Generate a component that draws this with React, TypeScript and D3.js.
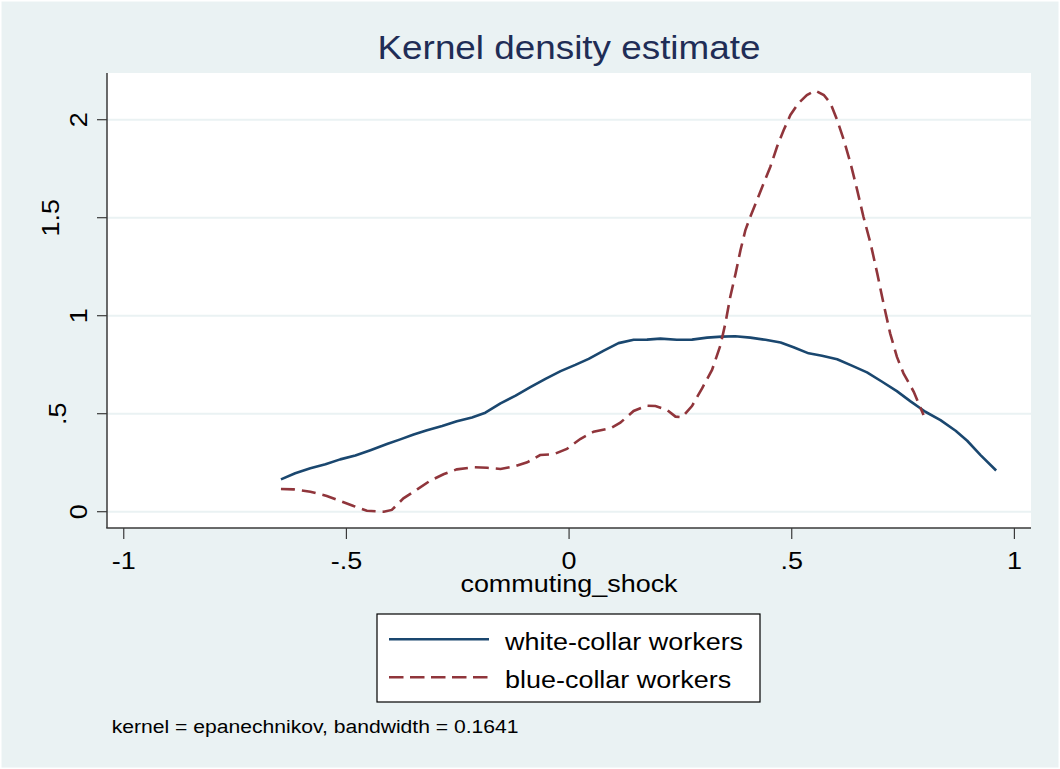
import React from "react";
import * as d3 from "d3";

const TITLE = "Kernel density estimate";
const X_TITLE = "commuting_shock";
const NOTE = "kernel = epanechnikov, bandwidth = 0.1641";
const X_TICKS = [-1, -0.5, 0, 0.5, 1];
const X_TICK_LABELS = ["-1", "-.5", "0", ".5", "1"];
const Y_TICKS = [0, 0.5, 1, 1.5, 2];
const Y_TICK_LABELS = ["0", ".5", "1", "1.5", "2"];
const SERIES_NAMES = ["white-collar workers", "blue-collar workers"];

const whiteX = [-0.647, -0.615, -0.581, -0.547, -0.514, -0.48, -0.446, -0.409, -0.379, -0.349, -0.319, -0.285, -0.252, -0.218, -0.188, -0.154, -0.12, -0.087, -0.053, -0.019, 0.014, 0.044, 0.078, 0.111, 0.145, 0.175, 0.205, 0.242, 0.276, 0.31, 0.343, 0.373, 0.407, 0.441, 0.475, 0.504, 0.538, 0.568, 0.602, 0.635, 0.669, 0.703, 0.736, 0.766, 0.8, 0.834, 0.868, 0.894, 0.924, 0.959];
const whiteY = [0.165, 0.196, 0.222, 0.242, 0.267, 0.287, 0.314, 0.345, 0.369, 0.394, 0.416, 0.437, 0.461, 0.481, 0.505, 0.553, 0.592, 0.635, 0.678, 0.717, 0.749, 0.78, 0.822, 0.86, 0.877, 0.878, 0.883, 0.877, 0.878, 0.888, 0.893, 0.895, 0.888, 0.877, 0.863, 0.839, 0.808, 0.796, 0.778, 0.745, 0.711, 0.663, 0.615, 0.564, 0.51, 0.467, 0.413, 0.362, 0.289, 0.21];

const blueX = [-0.647, -0.619, -0.581, -0.544, -0.514, -0.484, -0.454, -0.416, -0.398, -0.372, -0.341, -0.312, -0.282, -0.252, -0.214, -0.184, -0.154, -0.125, -0.094, -0.065, -0.035, -0.005, 0.025, 0.055, 0.093, 0.115, 0.145, 0.175, 0.194, 0.22, 0.239, 0.254, 0.276, 0.299, 0.321, 0.34, 0.351, 0.362, 0.374, 0.385, 0.396, 0.407, 0.422, 0.437, 0.452, 0.467, 0.482, 0.497, 0.515, 0.534, 0.553, 0.572, 0.587, 0.602, 0.617, 0.632, 0.647, 0.661, 0.677, 0.692, 0.706, 0.721, 0.736, 0.751, 0.774, 0.796];
const blueY = [0.116, 0.114, 0.102, 0.08, 0.055, 0.029, 0.005, 0.0, 0.009, 0.068, 0.114, 0.158, 0.191, 0.216, 0.227, 0.224, 0.218, 0.23, 0.252, 0.289, 0.293, 0.32, 0.371, 0.408, 0.426, 0.454, 0.514, 0.541, 0.539, 0.519, 0.485, 0.482, 0.539, 0.631, 0.723, 0.85, 0.961, 1.097, 1.216, 1.335, 1.437, 1.505, 1.59, 1.676, 1.76, 1.862, 1.947, 2.024, 2.084, 2.126, 2.148, 2.126, 2.084, 1.998, 1.896, 1.778, 1.641, 1.505, 1.369, 1.216, 1.063, 0.91, 0.791, 0.706, 0.612, 0.493];

const W = 1060;
const H = 769;
const BG = "#EAF2F3";
const NAVY = "#1A476F";
const MAROON = "#90353B";
const FONT = "'Liberation Sans', Arial, sans-serif";
const SX = 1.1;

export default function App() {
  const plot = { left: 107, right: 1031, top: 73, bottom: 528 };
  const x = d3.scaleLinear().domain([-1, 1]).range([123.75, 1014.4]);
  const y = d3.scaleLinear().domain([0, 2]).range([511.7, 119.7]);
  const line = d3
    .line<[number, number]>()
    .x((d) => x(d[0]))
    .y((d) => y(d[1]))
    .curve(d3.curveLinear);
  const whitePts = whiteX.map((v, i) => [v, whiteY[i]] as [number, number]);
  const bluePts = blueX.map((v, i) => [v, blueY[i]] as [number, number]);

  const yLabelBaseline = (s: string) => (s.length === 1 ? 86.5 : s.length === 2 ? 65.5 : 58.5);

  const legend = { left: 377, top: 614, right: 760, bottom: 702 };

  return (
    <svg
      width={W}
      height={H}
      style={{ position: "absolute", left: 0, top: 0 }}
      fontFamily={FONT}
    >
      <rect x={0} y={0} width={W} height={H} fill={BG} />
      <rect x={0.75} y={0.75} width={W - 1.5} height={H - 1.5} fill="none" stroke="#ffffff" strokeWidth={1.5} />
      <rect
        x={plot.left}
        y={plot.top}
        width={plot.right - plot.left}
        height={plot.bottom - plot.top}
        fill="#ffffff"
      />
      {Y_TICKS.map((t) => (
        <line key={"g" + t} x1={plot.left} x2={plot.right} y1={y(t)} y2={y(t)} stroke={BG} strokeWidth={2} />
      ))}
      <text
        transform={`translate(${(plot.left + plot.right) / 2},59) scale(${SX},1)`}
        textAnchor="middle"
        fontSize={33.5}
        fill="#1F2D56"
      >
        {TITLE}
      </text>
      <line x1={plot.left} x2={plot.left} y1={plot.top} y2={plot.bottom} stroke="#3a3a3a" strokeWidth={1.5} />
      <line x1={plot.left - 0.75} x2={plot.right} y1={plot.bottom} y2={plot.bottom} stroke="#3a3a3a" strokeWidth={1.5} />
      {Y_TICKS.map((t, i) => (
        <g key={"y" + t}>
          <line x1={plot.left - 10} x2={plot.left} y1={y(t)} y2={y(t)} stroke="#3a3a3a" strokeWidth={1.2} />
          <text
            transform={`translate(${yLabelBaseline(Y_TICK_LABELS[i])},${y(t)}) rotate(-90) scale(${SX},1)`}
            textAnchor="middle"
            fontSize={24.5}
            fill="#000"
          >
            {Y_TICK_LABELS[i]}
          </text>
        </g>
      ))}
      {X_TICKS.map((t, i) => (
        <g key={"x" + t}>
          <line x1={x(t)} x2={x(t)} y1={plot.bottom} y2={plot.bottom + 11} stroke="#3a3a3a" strokeWidth={1.2} />
          <text
            transform={`translate(${x(t)},569.3) scale(${SX},1)`}
            textAnchor="middle"
            fontSize={24.5}
            fill="#000"
          >
            {X_TICK_LABELS[i]}
          </text>
        </g>
      ))}
      <text
        transform={`translate(${(plot.left + plot.right) / 2},592) scale(${SX},1)`}
        textAnchor="middle"
        fontSize={24.5}
        fill="#000"
      >
        {X_TITLE}
      </text>
      <path d={line(whitePts) || ""} fill="none" stroke={NAVY} strokeWidth={2.6} strokeLinejoin="round" />
      <path d={line(bluePts) || ""} fill="none" stroke={MAROON} strokeWidth={2.6} strokeDasharray="14,7" />
      <rect
        x={legend.left}
        y={legend.top}
        width={legend.right - legend.left}
        height={legend.bottom - legend.top}
        fill="#ffffff"
        stroke="#000"
        strokeWidth={1.2}
      />
      <line x1={389} x2={489} y1={639.3} y2={639.3} stroke={NAVY} strokeWidth={2.6} />
      <line x1={389} x2={489} y1={677.3} y2={677.3} stroke={MAROON} strokeWidth={2.6} strokeDasharray="14.5,6.5" />
      <text transform={`translate(505,650) scale(${SX},1)`} fontSize={24.5} fill="#000">
        {SERIES_NAMES[0]}
      </text>
      <text transform={`translate(505,688) scale(${SX},1)`} fontSize={24.5} fill="#000">
        {SERIES_NAMES[1]}
      </text>
      <text transform={`translate(111.7,733.3) scale(${SX},1)`} fontSize={19.2} fill="#000">
        {NOTE}
      </text>
    </svg>
  );
}
